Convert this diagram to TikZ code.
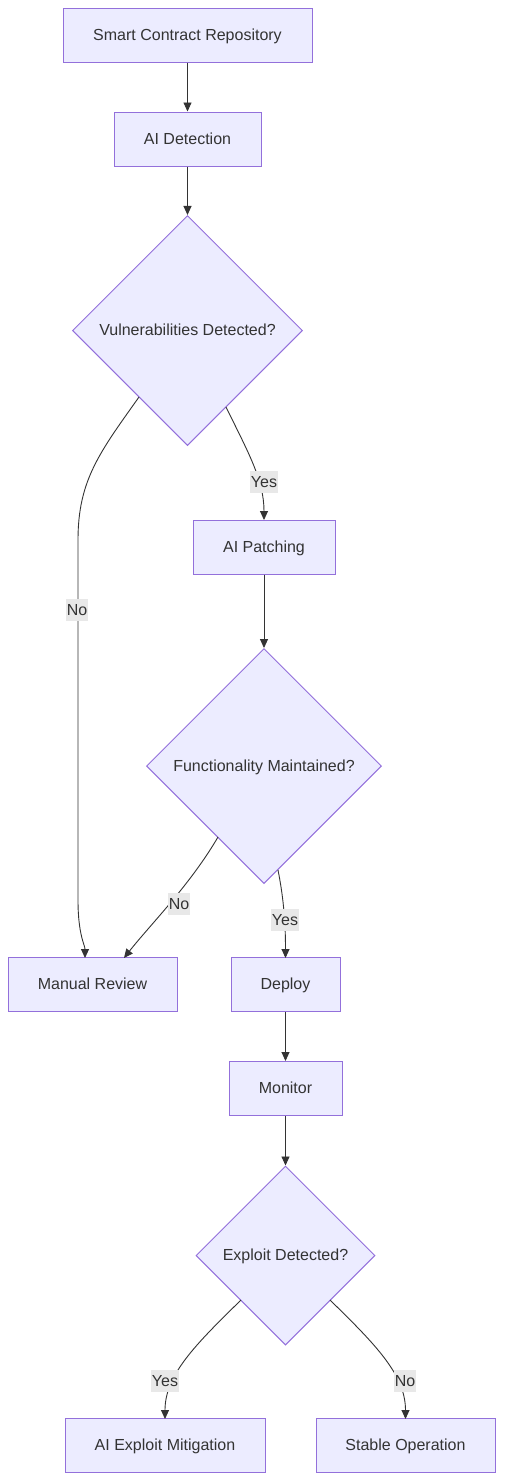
\documentclass[tikz,border=0pt]{standalone}
\usepackage{fontspec}
\setmainfont{Liberation Sans}
\usetikzlibrary{shapes.geometric,arrows.meta}
\definecolor{nodefill}{HTML}{ECECFF}
\definecolor{nodeline}{HTML}{9370DB}
\definecolor{txt}{HTML}{333333}
\definecolor{lblbg}{HTML}{E8E8E8}
\begin{document}
\begin{tikzpicture}[x=1pt,y=-1pt,
  font=\fontsize{16}{19}\selectfont,
  box/.style={draw=nodeline,fill=nodefill,line width=1pt,text=txt,inner sep=0pt,minimum height=54pt,text height=11.5pt,text depth=1.5pt},
  dia/.style={draw=nodeline,fill=nodefill,line width=1pt,text=txt,diamond,aspect=1,inner sep=0pt,text height=11.5pt,text depth=1.5pt},
  conn/.style={draw=txt,line width=0.9pt,-{Triangle[length=9pt,width=8pt]}},
  lbl/.style={fill=lblbg,text=txt,inner sep=1pt,minimum height=22pt,text height=11.5pt,text depth=1.5pt}]
\useasboundingbox (0,0) rectangle (504,1481);
\node[box,minimum width=249pt] (repo) at (187.5,35) {Smart Contract Repository};
\node[box,minimum width=147pt] (det) at (187.5,139) {AI Detection};
\node[dia,minimum width=230pt,minimum height=230pt] (vuln) at (187.5,330.5) {Vulnerabilities Detected?};
\node[box,minimum width=142pt] (patch) at (264,547) {AI Patching};
\node[dia,minimum width=235pt,minimum height=235pt] (func) at (264,766) {Functionality Maintained?};
\node[box,minimum width=169pt] (manual) at (92.5,984.5) {Manual Review};
\node[box,minimum width=109pt] (deploy) at (285.5,984.5) {Deploy};
\node[box,minimum width=113pt] (mon) at (285.5,1088.5) {Monitor};
\node[dia,minimum width=179pt,minimum height=179pt] (expl) at (285.5,1255.5) {Exploit Detected?};
\node[box,minimum width=200pt] (mitig) at (165,1445.5) {AI Exploit Mitigation};
\node[box,minimum width=179pt] (stable) at (405.5,1445.5) {Stable Operation};

\coordinate (v1) at (139,397);
\coordinate (v2) at (226,407);
\coordinate (f1) at (218,837);
\coordinate (f2) at (278,870);
\coordinate (e1) at (241,1300);
\coordinate (e2) at (330,1300);

\draw[conn] (repo) -- (det);
\draw[conn] (det) -- (vuln);
\draw[conn] (v1) .. controls (100,452) and (78,480) .. (78,540) -- (78,900) .. controls (78,935) and (85,945) .. (85,958);
\draw[conn] (v2) .. controls (248,452) and (264,480) .. (264,520);
\draw[conn] (patch) -- (func);
\draw[conn] (f1) .. controls (190,885) and (150,925) .. (124,958);
\draw[conn] (f2) .. controls (284,900) and (285.5,925) .. (285.5,958);
\draw[conn] (deploy) -- (mon);
\draw[conn] (mon) -- (expl);
\draw[conn] (e1) .. controls (195,1345) and (165,1375) .. (165,1419);
\draw[conn] (e2) .. controls (376,1345) and (405.5,1375) .. (405.5,1419);

\node[lbl] (lno1) at (77,610) {No};
\node[lbl] (lyes1) at (264,482) {Yes};
\node[lbl] (lno2) at (179,904) {No};
\node[lbl] (lyes2) at (285,920) {Yes};
\node[lbl] (lyes3) at (165,1381) {Yes};
\node[lbl] (lno3) at (405,1381) {No};
\end{tikzpicture}
\end{document}
